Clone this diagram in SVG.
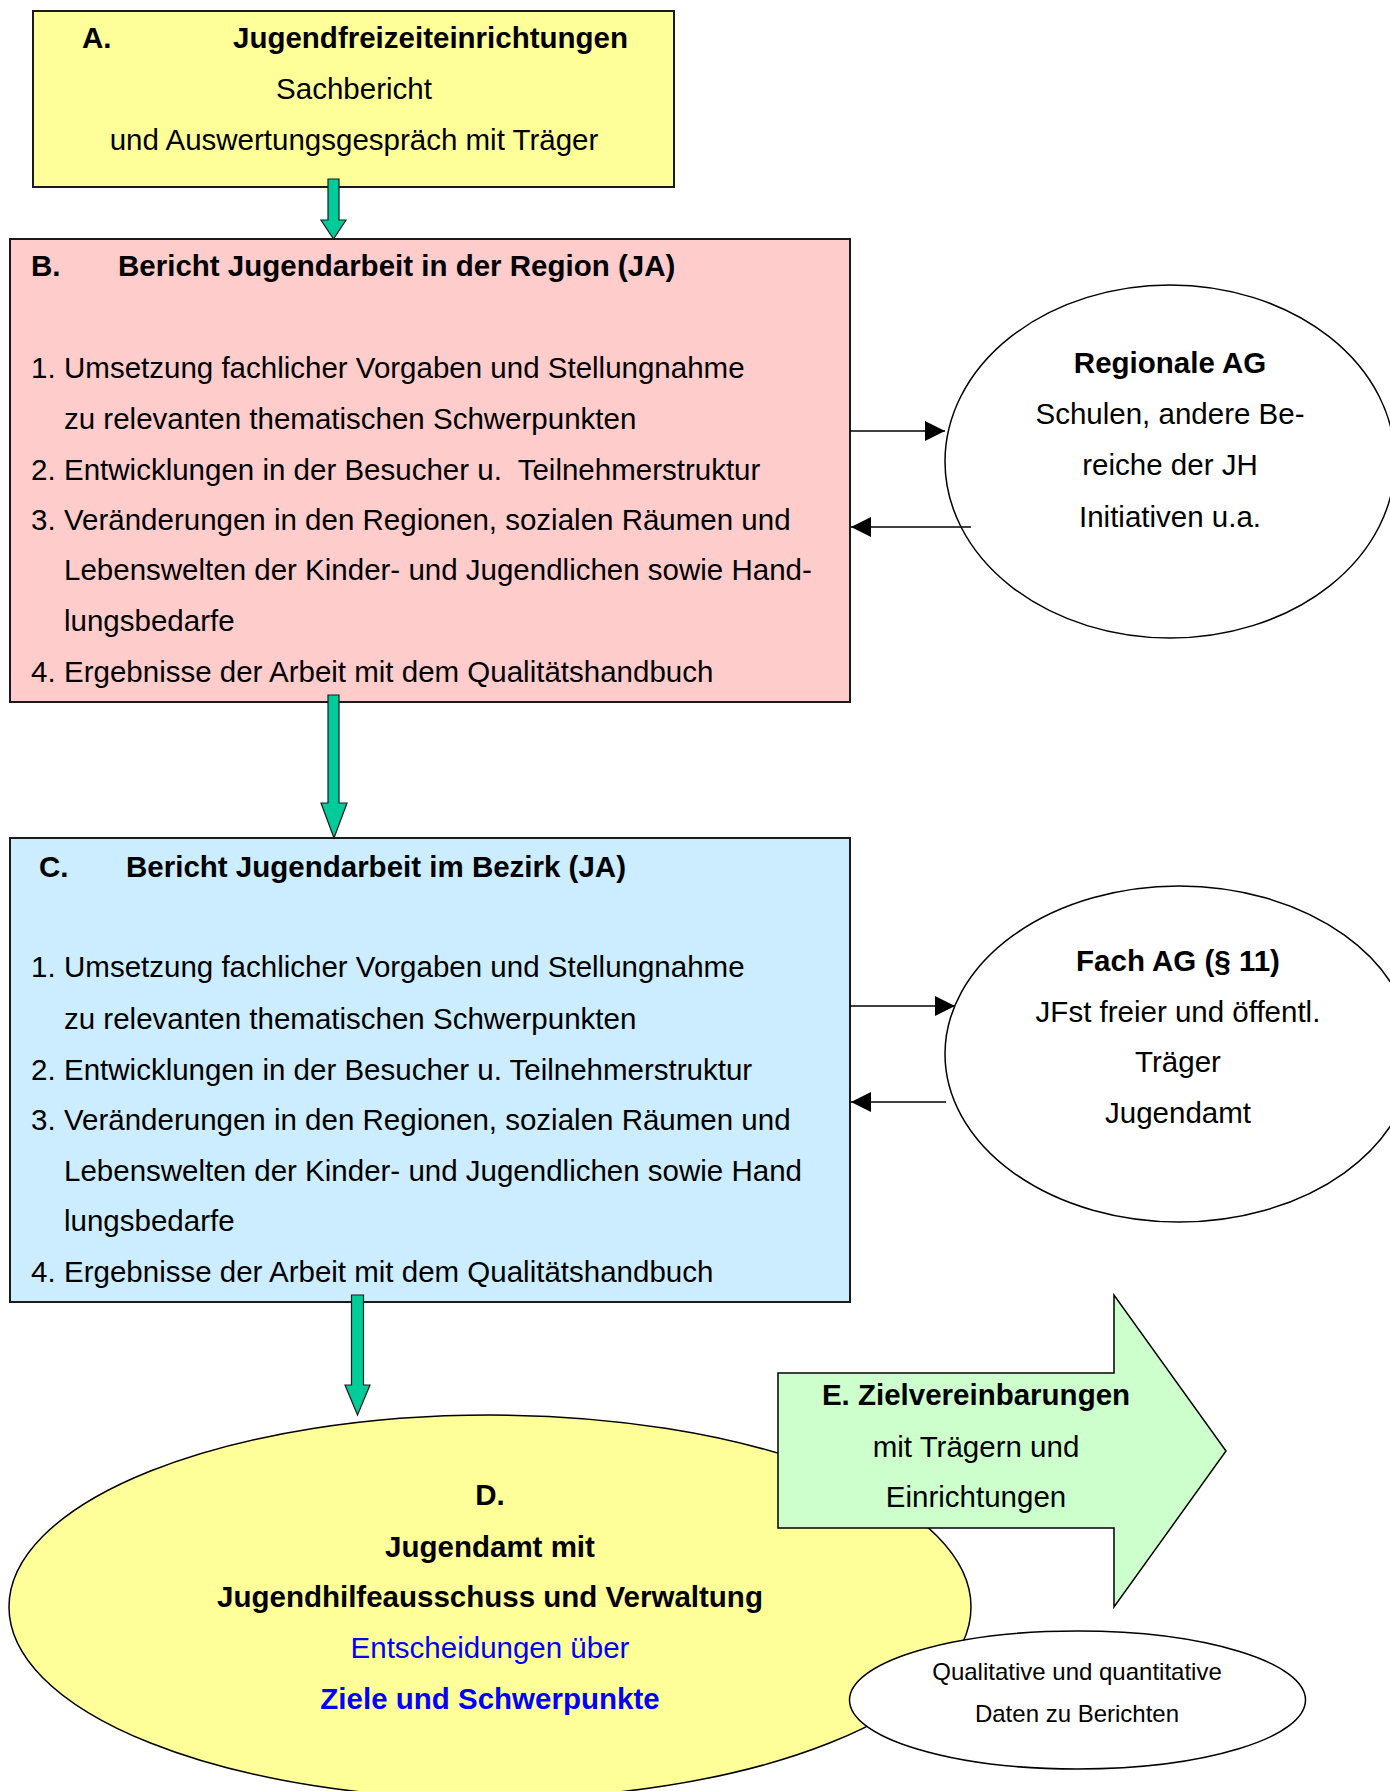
<svg xmlns="http://www.w3.org/2000/svg" width="1390" height="1791" viewBox="0 0 1390 1791">
<style>
  text { font-family: "Liberation Sans", Arial, sans-serif; font-size: 29.5px; fill: #000; }
  .b { font-weight: bold; }
  .c { text-anchor: middle; }
  .blue { fill: #0000FF; }
  .sm { font-size: 24px; }
  .box { stroke: #1a1a1a; stroke-width: 2; }
  .ell { stroke: #000; stroke-width: 1.5; }
  .green { fill: #00CC99; stroke: #1a1a1a; stroke-width: 1.2; }
  .conn { stroke: #000; stroke-width: 1.5; fill: none; marker-end: url(#ah); }
</style>
<defs>
  <marker id="ah" viewBox="0 0 20 20" markerWidth="20" markerHeight="20" refX="20" refY="10" orient="auto" markerUnits="userSpaceOnUse">
    <path d="M0,0 L20,10 L0,20 z" fill="#000"/>
  </marker>
</defs>
<rect width="1390" height="1791" fill="#fff"/>

<g id="nodeA">
  <rect class="box" x="33" y="11" width="641" height="176" fill="#FFFF99"/>
  <text class="b" x="82" y="48">A.</text>
  <text class="b" x="233" y="48">Jugendfreizeiteinrichtungen</text>
  <text class="c" x="354" y="99">Sachbericht</text>
  <text class="c" x="354" y="150">und Auswertungsgespräch mit Träger</text>
</g>

<g id="nodeB">
  <rect class="box" x="10" y="239" width="840" height="463" fill="#FFCCCC"/>
  <text class="b" x="31" y="276">B.</text>
  <text class="b" x="118" y="276">Bericht Jugendarbeit in der Region (JA)</text>
  <text x="31" y="378">1.</text><text x="64" y="378">Umsetzung fachlicher Vorgaben und Stellungnahme</text>
  <text x="64" y="429">zu relevanten thematischen Schwerpunkten</text>
  <text x="31" y="480">2.</text><text x="64" y="480">Entwicklungen in der Besucher u.&#160; Teilnehmerstruktur</text>
  <text x="31" y="530">3.</text><text x="64" y="530">Veränderungen in den Regionen, sozialen Räumen und</text>
  <text x="64" y="580">Lebenswelten der Kinder- und Jugendlichen sowie Hand-</text>
  <text x="64" y="631">lungsbedarfe</text>
  <text x="31" y="682">4.</text><text x="64" y="682">Ergebnisse der Arbeit mit dem Qualitätshandbuch</text>
</g>

<g id="nodeRegionaleAG">
  <ellipse class="ell" cx="1170" cy="461.5" rx="225" ry="176.5" fill="#fff"/>
  <text class="b c" x="1170" y="373">Regionale AG</text>
  <text class="c" x="1170" y="424">Schulen, andere Be-</text>
  <text class="c" x="1170" y="475">reiche der JH</text>
  <text class="c" x="1170" y="527">Initiativen u.a.</text>
</g>

<g id="nodeC">
  <rect class="box" x="10" y="838" width="840" height="464" fill="#CCECFF"/>
  <text class="b" x="39" y="877">C.</text>
  <text class="b" x="126" y="877">Bericht Jugendarbeit im Bezirk (JA)</text>
  <text x="31" y="977">1.</text><text x="64" y="977">Umsetzung fachlicher Vorgaben und Stellungnahme</text>
  <text x="64" y="1029">zu relevanten thematischen Schwerpunkten</text>
  <text x="31" y="1080">2.</text><text x="64" y="1080">Entwicklungen in der Besucher u. Teilnehmerstruktur</text>
  <text x="31" y="1130">3.</text><text x="64" y="1130">Veränderungen in den Regionen, sozialen Räumen und</text>
  <text x="64" y="1181">Lebenswelten der Kinder- und Jugendlichen sowie Hand</text>
  <text x="64" y="1231">lungsbedarfe</text>
  <text x="31" y="1282">4.</text><text x="64" y="1282">Ergebnisse der Arbeit mit dem Qualitätshandbuch</text>
</g>

<g id="nodeFachAG">
  <ellipse class="ell" cx="1179" cy="1054" rx="234" ry="168" fill="#fff"/>
  <text class="b c" x="1178" y="971">Fach AG (§ 11)</text>
  <text class="c" x="1178" y="1022">JFst freier und öffentl.</text>
  <text class="c" x="1178" y="1072">Träger</text>
  <text class="c" x="1178" y="1123">Jugendamt</text>
</g>

<g id="nodeD">
  <ellipse class="ell" cx="490" cy="1607" rx="481" ry="192" fill="#FFFF99"/>
  <text class="b c" x="490" y="1505">D.</text>
  <text class="b c" x="490" y="1557">Jugendamt mit</text>
  <text class="b c" x="490" y="1607">Jugendhilfeausschuss und Verwaltung</text>
  <text class="c blue" x="490" y="1658">Entscheidungen über</text>
  <text class="b c blue" x="490" y="1709">Ziele und Schwerpunkte</text>
</g>

<g id="nodeE">
  <polygon class="ell" points="778,1373 1114,1373 1114,1295 1226,1451 1114,1607 1114,1528 778,1528" fill="#CCFFCC"/>
  <text class="b c" x="976" y="1405">E. Zielvereinbarungen</text>
  <text class="c" x="976" y="1457">mit Trägern und</text>
  <text class="c" x="976" y="1507">Einrichtungen</text>
</g>

<g id="nodeDaten">
  <ellipse class="ell" cx="1077.5" cy="1700" rx="228" ry="69" fill="#fff"/>
  <text class="c sm" x="1077" y="1680">Qualitative und quantitative</text>
  <text class="c sm" x="1077" y="1722">Daten zu Berichten</text>
</g>

<g id="connectors">
  <polygon class="green" points="328,179 339,179 339,220 346,220 333.5,239 321,220 328,220"/>
  <polygon class="green" points="328,695 339,695 339,803 347,803 334,838 321,803 328,803"/>
  <polygon class="green" points="351.5,1295 363.5,1295 363.5,1385 370,1385 357.5,1415 345,1385 351.5,1385"/>
  <line class="conn" x1="850" y1="431" x2="945" y2="431"/>
  <line class="conn" x1="971" y1="527" x2="851" y2="527"/>
  <line class="conn" x1="850" y1="1006" x2="955" y2="1006"/>
  <line class="conn" x1="946" y1="1102" x2="851" y2="1102"/>
</g>
</svg>
